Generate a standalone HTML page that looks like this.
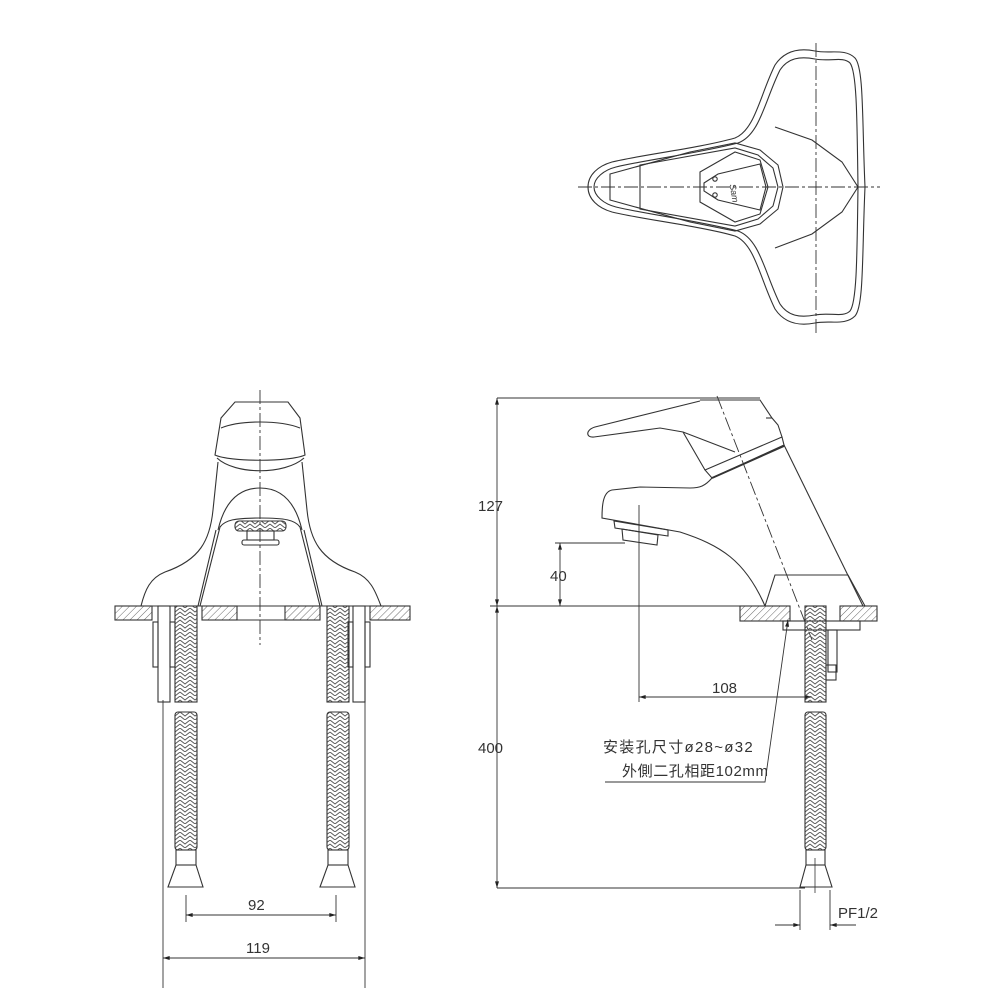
<!DOCTYPE html>
<html><head><meta charset="utf-8"><style>
html,body{margin:0;padding:0;background:#fff;}
svg{display:block;}
text{font-family:"Liberation Sans","Noto Sans CJK SC",sans-serif;fill:#333;}
</style></head><body>
<svg width="1000" height="1000" viewBox="0 0 1000 1000" xmlns="http://www.w3.org/2000/svg">
<defs>
<pattern id="hatch" width="5" height="5" patternUnits="userSpaceOnUse" patternTransform="rotate(45)">
<line x1="0" y1="0" x2="0" y2="5" stroke="#444" stroke-width="0.8"/>
</pattern>
<pattern id="braid" width="10" height="8" patternUnits="userSpaceOnUse">
<path d="M0,0 L5,4 L10,0 M0,4 L5,8 L10,4" stroke="#555" stroke-width="0.9" fill="none"/>
</pattern>
<marker id="ar" viewBox="0 0 10 6" refX="10" refY="3" markerWidth="10" markerHeight="4" orient="auto-start-reverse" markerUnits="userSpaceOnUse">
<path d="M0,0 L10,3 L0,6Z" fill="#222"/>
</marker>
</defs>
<g fill="none" stroke="#333" stroke-width="1.1">

<!-- ===== TOP VIEW ===== -->
<line x1="578" y1="187" x2="880" y2="187" stroke-dasharray="14,3,3,3" stroke-width="0.9"/>
<line x1="816" y1="43" x2="816" y2="333" stroke-dasharray="14,3,3,3" stroke-width="0.9"/>
<path d="M588,187 C588,175 598,166 612,162 C640,155 700,148 735,138 C755,130 760,95 775,65 C785,50 800,48 815,51 C830,54 845,48 855,58 C864,68 862,120 865,187 C862,254 864,306 855,316 C845,326 830,320 815,323 C800,326 785,324 775,309 C760,279 755,244 735,236 C700,226 640,219 612,212 C598,208 588,199 588,187Z"/>
<path d="M594,187 C594,178 604,170 616,167 C645,160 700,153 738,143 C760,135 765,100 780,70 C788,58 800,56 815,59 C830,62 843,56 850,63 C857,72 857,120 858,187 C857,254 857,302 850,311 C843,318 830,312 815,315 C800,318 788,316 780,304 C765,274 760,239 738,231 C700,221 645,214 616,207 C604,204 594,196 594,187Z"/>
<polyline points="775,127 812,140 842,162 858,187 842,212 812,234 775,248"/>
<polygon points="610,174 690,152 735,143 760,150 778,165 783,187 778,209 760,224 735,231 690,222 610,200"/>
<polygon points="640,165 735,148 758,155 773,168 778,187 773,206 758,219 735,226 640,209"/>
<polygon points="700,172 735,152 760,160 768,187 760,214 735,222 700,202"/>
<polygon points="704,183 718,174 760,164 766,187 760,210 718,200 704,191"/>
<circle cx="715" cy="179" r="2.2"/><circle cx="715" cy="195" r="2.2"/>
<text x="730" y="190" font-size="9" transform="rotate(80 733 187)" stroke="none" font-style="italic">Sam</text>

<!-- ===== FRONT VIEW ===== -->
<line x1="260" y1="390" x2="260" y2="645" stroke-dasharray="14,3,3,3" stroke-width="0.9"/>
<path d="M235,402 L288,402 L300,418 L305,455 C290,462 230,462 215,455 L221,418Z"/>
<path d="M221,428 C240,420 280,420 300,428"/>
<path d="M217,458 C235,475 285,475 304,458"/>
<path d="M218,462 L213,510 C210,540 200,560 165,572 C150,578 145,590 141,606"/>
<path d="M302,462 L307,510 C310,540 320,560 355,572 C370,578 375,590 381,606"/>
<path d="M218,530 C225,500 240,488 260,488 C280,488 295,500 302,530"/>
<path d="M198,606 L216,530 M322,606 L304,530"/>
<path d="M200,606 L220,527 C225,520 235,518 260,518 C285,518 295,520 300,527 L320,606"/>
<rect x="235" y="521" width="51" height="10" rx="4" fill="url(#braid)"/>
<rect x="247" y="531" width="27" height="9"/>
<rect x="242" y="540" width="37" height="5" rx="2"/>
<rect x="115" y="606" width="37" height="14" fill="url(#hatch)"/>
<rect x="202" y="606" width="35" height="14" fill="url(#hatch)"/>
<rect x="285" y="606" width="35" height="14" fill="url(#hatch)"/>
<rect x="370" y="606" width="40" height="14" fill="url(#hatch)"/>
<line x1="115" y1="606" x2="410" y2="606"/><line x1="237" y1="620" x2="285" y2="620"/>
<rect x="158" y="606" width="12" height="96"/>
<rect x="353" y="606" width="12" height="96"/>
<rect x="153" y="622" width="5" height="45"/><rect x="170" y="622" width="5" height="45"/>
<rect x="348" y="622" width="5" height="45"/><rect x="365" y="622" width="5" height="45"/>
<rect x="175" y="606" width="22" height="96" fill="url(#braid)"/>
<rect x="327" y="606" width="22" height="96" fill="url(#braid)"/>
<rect x="175" y="712" width="22" height="138" rx="3" fill="url(#braid)"/>
<rect x="327" y="712" width="22" height="138" rx="3" fill="url(#braid)"/>
<rect x="176" y="850" width="20" height="15"/><path d="M176,865 L196,865 L203,887 L168,887Z"/>
<rect x="328" y="850" width="20" height="15"/><path d="M328,865 L348,865 L355,887 L320,887Z"/>
<line x1="163" y1="700" x2="163" y2="988" stroke-width="0.9"/>
<line x1="365" y1="700" x2="365" y2="988" stroke-width="0.9"/>
<line x1="186" y1="895" x2="186" y2="922" stroke-width="0.9"/>
<line x1="336" y1="895" x2="336" y2="922" stroke-width="0.9"/>
<line x1="186" y1="915" x2="336" y2="915" marker-start="url(#ar)" marker-end="url(#ar)" stroke-width="0.9"/>
<line x1="163" y1="958" x2="365" y2="958" marker-start="url(#ar)" marker-end="url(#ar)" stroke-width="0.9"/>

<!-- ===== SIDE VIEW ===== -->
<line x1="497" y1="398" x2="760" y2="398" stroke-width="0.9"/>
<line x1="490" y1="606" x2="740" y2="606" stroke-width="0.9"/>
<line x1="497" y1="888" x2="805" y2="888" stroke-width="0.9"/>
<line x1="497" y1="398" x2="497" y2="606" marker-start="url(#ar)" marker-end="url(#ar)" stroke-width="0.9"/>
<line x1="497" y1="606" x2="497" y2="888" marker-start="url(#ar)" marker-end="url(#ar)" stroke-width="0.9"/>
<line x1="555" y1="543" x2="625" y2="543" stroke-width="0.9"/>
<line x1="560" y1="543" x2="560" y2="606" marker-start="url(#ar)" marker-end="url(#ar)" stroke-width="0.9"/>
<line x1="639" y1="505" x2="639" y2="702" stroke-width="0.9"/>
<line x1="639" y1="697" x2="812" y2="697" marker-start="url(#ar)" marker-end="url(#ar)" stroke-width="0.9"/>
<path d="M700,400 L760,400 L772,418 L778,425 L782,437"/>
<path d="M700,401 L595,427 C585,430 586,438 594,437 L660,428 L683,432 L735,452"/>
<path d="M683,432 L705,470"/>
<path d="M705,470 L782,437 L784,445 L712,478 Z"/>
<line x1="712" y1="478" x2="784" y2="446" stroke-width="1.8"/>
<path d="M766,418 L772,418"/>
<path d="M784,445 L863,606"/>
<path d="M712,478 C705,486 700,488 690,488 L640,487 L612,490 C603,492 602,505 602,518 L680,532 C720,545 745,560 765,606"/>
<path d="M614,521 L668,530 L668,536 L615,528Z"/>
<path d="M622,529 L658,535 L657,545 L623,540Z"/>
<path d="M765,606 L775,575 L848,575 L865,606"/>
<line x1="717" y1="396" x2="812" y2="640" stroke-dasharray="14,3,3,3" stroke-width="0.9"/>
<rect x="740" y="606" width="50" height="15" fill="url(#hatch)"/>
<rect x="840" y="606" width="37" height="15" fill="url(#hatch)"/>
<line x1="790" y1="621" x2="840" y2="621"/>
<rect x="783" y="621" width="77" height="9"/>
<rect x="828" y="630" width="9" height="42"/>
<rect x="826" y="665" width="10" height="15"/>
<rect x="805" y="606" width="21" height="96" fill="url(#braid)"/>
<rect x="805" y="712" width="21" height="138" rx="3" fill="url(#braid)"/>
<rect x="806" y="850" width="19" height="15"/><path d="M806,865 L825,865 L832,887 L800,887Z"/>
<line x1="815" y1="858" x2="815" y2="893" stroke-width="0.8"/>
<line x1="800" y1="890" x2="800" y2="930" stroke-width="0.9"/>
<line x1="830" y1="890" x2="830" y2="930" stroke-width="0.9"/>
<line x1="775" y1="925" x2="800" y2="925" marker-end="url(#ar)" stroke-width="0.9"/>
<line x1="856" y1="925" x2="830" y2="925" marker-end="url(#ar)" stroke-width="0.9"/>
<polyline points="605,782 765,782 788,620" stroke-width="0.9" marker-end="url(#ar)"/>
</g>
<g stroke="none">
<text x="478" y="511" font-size="15">127</text>
<text x="478" y="753" font-size="15">400</text>
<text x="550" y="581" font-size="15">40</text>
<text x="712" y="693" font-size="15">108</text>
<text x="248" y="910" font-size="15">92</text>
<text x="246" y="953" font-size="15">119</text>
<text x="838" y="918" font-size="15">PF1/2</text>
<text x="603" y="752" font-size="15" letter-spacing="1.3">安装孔尺寸ø28~ø32</text>
<text x="622" y="776" font-size="15" letter-spacing="0.6">外側二孔相距102mm</text>
</g>
</svg>
</body></html>
